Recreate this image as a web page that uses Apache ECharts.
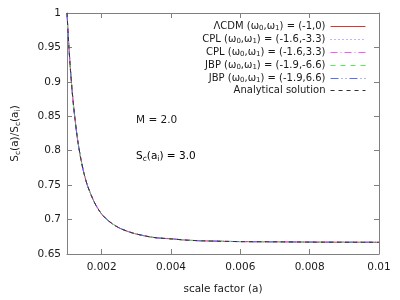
<!DOCTYPE html>
<html>
<head>
<meta charset="utf-8">
<script src="https://cdn.jsdelivr.net/npm/echarts@6/dist/echarts.min.js"></script>
<style>html,body{margin:0;padding:0;background:#fff}#c{width:400px;height:300px}</style>
</head>
<body>
<div id="c"></div>
<script>
// scale factor a
var aVals = [0.001, 0.00105, 0.0011, 0.00115, 0.0012, 0.0013, 0.0014, 0.0015, 0.0016, 0.0018, 0.002, 0.0022, 0.0025, 0.0028, 0.003, 0.0035, 0.004, 0.0045, 0.005, 0.006, 0.007, 0.008, 0.009, 0.01];
// S_c(a)/S_c(a_i) (all curves overlap)
var lcdm     = [1.000, 0.955, 0.917, 0.886, 0.860, 0.818, 0.788, 0.765, 0.748, 0.724, 0.708, 0.698, 0.688, 0.682, 0.679, 0.674, 0.672, 0.670, 0.669, 0.668, 0.6677, 0.6673, 0.6671, 0.667];
var cplNeg   = [1.000, 0.955, 0.917, 0.886, 0.860, 0.818, 0.788, 0.765, 0.748, 0.724, 0.708, 0.698, 0.688, 0.682, 0.679, 0.674, 0.672, 0.670, 0.669, 0.668, 0.6677, 0.6673, 0.6671, 0.667];
var cplPos   = [1.000, 0.955, 0.917, 0.886, 0.860, 0.818, 0.788, 0.765, 0.748, 0.724, 0.708, 0.698, 0.688, 0.682, 0.679, 0.674, 0.672, 0.670, 0.669, 0.668, 0.6677, 0.6673, 0.6671, 0.667];
var jbpNeg   = [1.000, 0.955, 0.917, 0.886, 0.860, 0.818, 0.788, 0.765, 0.748, 0.724, 0.708, 0.698, 0.688, 0.682, 0.679, 0.674, 0.672, 0.670, 0.669, 0.668, 0.6677, 0.6673, 0.6671, 0.667];
var jbpPos   = [1.000, 0.955, 0.917, 0.886, 0.860, 0.818, 0.788, 0.765, 0.748, 0.724, 0.708, 0.698, 0.688, 0.682, 0.679, 0.674, 0.672, 0.670, 0.669, 0.668, 0.6677, 0.6673, 0.6671, 0.667];
var analytic = [1.000, 0.955, 0.917, 0.886, 0.860, 0.818, 0.788, 0.765, 0.748, 0.724, 0.708, 0.698, 0.688, 0.682, 0.679, 0.674, 0.672, 0.670, 0.669, 0.668, 0.6677, 0.6673, 0.6671, 0.667];
var xTicks = [0.002, 0.004, 0.006, 0.008, 0.01];
var yMin = 0.65, yMax = 1, yStep = 0.05;
var seriesNames = ['lcdm', 'cplNeg', 'cplPos', 'jbpNeg', 'jbpPos', 'analytic'];
var legendLabels = {
  lcdm:    '{n|ΛCDM (ω}{s|0}{n|,ω}{s|1}{n|) = (-1,0)}',
  cplNeg:  '{n|CPL (ω}{s|0}{n|,ω}{s|1}{n|) = (-1.6,-3.3)}',
  cplPos:  '{n|CPL (ω}{s|0}{n|,ω}{s|1}{n|) = (-1.6,3.3)}',
  jbpNeg:  '{n|JBP (ω}{s|0}{n|,ω}{s|1}{n|) = (-1.9,-6.6)}',
  jbpPos:  '{n|JBP (ω}{s|0}{n|,ω}{s|1}{n|) = (-1.9,6.6)}',
  analytic:'{n|Analytical solution}'
};

var FONT = 'DejaVu Sans';
var TXT = '#1a1a1a';
var AX = '#808080';
var richSub = {
  n: {fontFamily: FONT, fontSize: 10, color: TXT, lineHeight: 12},
  s: {fontFamily: FONT, fontSize: 7, color: TXT, lineHeight: 8, padding: [5, 0, 0, 0]}
};
var richAxis = {
  n: {fontFamily: FONT, fontSize: 10.5, color: TXT, lineHeight: 12},
  s: {fontFamily: FONT, fontSize: 7.5, color: TXT, lineHeight: 8, padding: [6, 0, 0, 0]}
};
function pairs(ys) { return aVals.map(function (a, i) { return [a, ys[i]]; }); }
var dataMap = {lcdm: lcdm, cplNeg: cplNeg, cplPos: cplPos, jbpNeg: jbpNeg, jbpPos: jbpPos, analytic: analytic};
var styles = {
  lcdm:    {color: '#e8322a', type: 'solid'},
  cplNeg:  {color: '#7070ff', type: [1, 3]},
  cplPos:  {color: '#ff55ff', type: [7, 3, 1, 3]},
  jbpNeg:  {color: '#55ee55', type: [5, 5]},
  jbpPos:  {color: '#5a6cff', type: [8, 3, 1, 3, 1, 3]},
  analytic:{color: '#333333', type: [4, 4]}
};

var chart = echarts.init(document.getElementById('c'), null, {renderer: 'canvas'});
var axisCommonX = {
  type: 'value', min: 0.001, max: 0.01,
  axisLine: {show: true, lineStyle: {color: AX, width: 1}},
  splitLine: {show: false}
};
var axisCommonY = {
  type: 'value', min: yMin, max: yMax, interval: yStep,
  axisLine: {show: true, lineStyle: {color: AX, width: 1}},
  splitLine: {show: false}
};
chart.setOption({
  animation: false,
  backgroundColor: '#fff',
  grid: {left: 67, right: 21, top: 13, bottom: 41, containLabel: false},
  xAxis: [
    Object.assign({}, axisCommonX, {
      position: 'bottom',
      name: 'scale factor (a)', nameLocation: 'middle', nameGap: 30,
      nameTextStyle: {fontFamily: FONT, fontSize: 10.5, color: TXT},
      axisTick: {show: true, inside: true, length: 5, lineStyle: {color: AX}, customValues: xTicks},
      axisLabel: {show: true, margin: 8, fontFamily: FONT, fontSize: 10.5, color: TXT, customValues: xTicks,
        formatter: function (v) { return String(+v.toFixed(3)); }}
    }),
    Object.assign({}, axisCommonX, {
      position: 'top',
      axisTick: {show: true, inside: true, length: 5, lineStyle: {color: AX}, customValues: xTicks},
      axisLabel: {show: false}
    })
  ],
  yAxis: [
    Object.assign({}, axisCommonY, {
      position: 'left',
      name: '{n|S}{s|c}{n|(a)/S}{s|c}{n|(a}{s|i}{n|)}', nameLocation: 'middle', nameRotate: 90, nameGap: 46,
      nameTextStyle: {rich: richAxis},
      axisTick: {show: true, inside: true, length: 5, lineStyle: {color: AX}},
      axisLabel: {show: true, margin: 6, fontFamily: FONT, fontSize: 10.5, color: TXT,
        formatter: function (v) { return String(+v.toFixed(2)); }}
    }),
    Object.assign({}, axisCommonY, {
      position: 'right',
      axisTick: {show: true, inside: true, length: 5, lineStyle: {color: AX}},
      axisLabel: {show: false}
    })
  ],
  legend: {
    orient: 'vertical', right: 29, top: 15, align: 'right',
    itemWidth: 35, itemHeight: 10, itemGap: 1,
    data: seriesNames,
    formatter: function (name) { return legendLabels[name]; },
    itemStyle: {opacity: 0},
    lineStyle: {width: 1, color: 'inherit', type: 'inherit', opacity: 1},
    textStyle: {width: 114, height: 13, align: 'right', fontFamily: FONT, fontSize: 10, color: TXT, rich: richSub},
    backgroundColor: 'transparent'
  },
  graphic: [
    {type: 'text', left: 136, top: 115, style: {text: 'M = 2.0', fontFamily: FONT, fontSize: 10.5, fill: TXT}},
    {type: 'text', left: 136, top: 149, style: {text: '{n|S}{s|c}{n|(a}{s|i}{n|) = 3.0}', rich: richAxis}}
  ],
  series: seriesNames.map(function (k) {
    return {
      name: k, type: 'line', xAxisIndex: 0, yAxisIndex: 0,
      data: pairs(dataMap[k]), symbol: 'none', smooth: 0.3, silent: true,
      lineStyle: {color: styles[k].color, width: 1, type: styles[k].type},
      itemStyle: {color: styles[k].color}
    };
  })
});
</script>
</body>
</html>
